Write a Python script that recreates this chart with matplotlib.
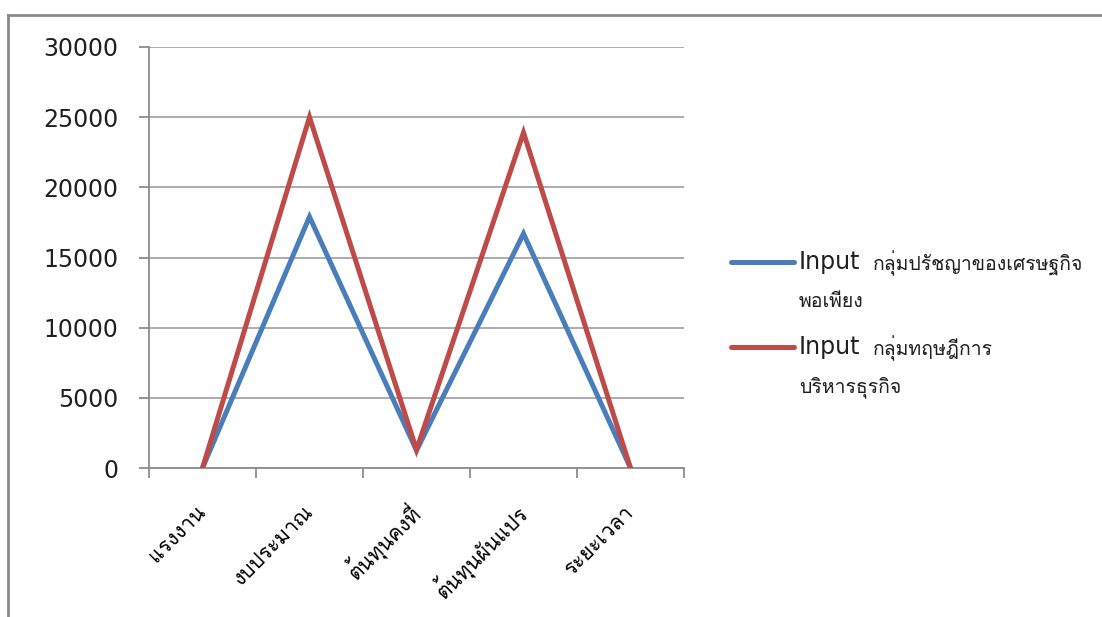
import matplotlib
matplotlib.use("Agg")
import matplotlib.pyplot as plt
from matplotlib.lines import Line2D

plt.rcParams['font.family'] = ['DejaVu Sans', 'Loma']

categories = ['แรงงาน', 'งบประมาณ', 'ต้นทุนคงที่', 'ต้นทุนผันแปร', 'ระยะเวลา']
sufficiency_input = [0, 17900, 1250, 16700, 0]
business_input = [0, 25000, 1300, 23900, 0]
series_labels = [['Input กลุ่มปรัชญาของเศรษฐกิจ', 'พอเพียง'],
                 ['Input กลุ่มทฤษฎีการ', 'บริหารธุรกิจ']]
y_ticks = [0, 5000, 10000, 15000, 20000, 25000, 30000]

W, H = 1102, 617
blue = '#4A7EBB'
red = '#BE4B48'
grid_col = '#A6A6A6'
axis_col = '#8C8C8C'

fig = plt.figure(figsize=(W / 100, H / 100), dpi=100)
ax = fig.add_axes([149 / W, 1 - 468 / H, 535 / W, 421 / H])

x = list(range(len(categories)))
ax.plot(x, sufficiency_input, color=blue, lw=3.6, solid_joinstyle='miter', zorder=3)
ax.plot(x, business_input, color=red, lw=3.6, solid_joinstyle='miter', zorder=4)

ax.set_xlim(-0.5, len(categories) - 0.5)
ax.set_ylim(0, 30000)
ax.set_yticks(y_ticks)
ax.set_yticklabels([str(v) for v in y_ticks])
ax.yaxis.grid(True, color=grid_col, lw=1.3)
ax.set_axisbelow(True)

ax.set_xticks(x)
ax.set_xticklabels(categories, rotation=45, ha='right', va='center',
                   rotation_mode='anchor', fontsize=15)
ax.set_xticks([i - 0.5 for i in range(len(categories) + 1)], minor=True)
ax.tick_params(axis='x', which='major', length=0, pad=29)
ax.tick_params(axis='x', which='minor', length=7, width=1.3, color=axis_col)
ax.tick_params(axis='y', length=7, width=1.3, color=axis_col, pad=15, labelsize=17,
               labelcolor='#202020')

for side in ['top', 'right']:
    ax.spines[side].set_visible(False)
for side in ['left', 'bottom']:
    ax.spines[side].set_color(axis_col)
    ax.spines[side].set_linewidth(1.3)

# legend drawn by hand: Latin part larger than the Thai part, wrapped second line
legend_rows = [262, 347]
for color, lines, y in zip([blue, red], series_labels, legend_rows):
    latin, thai = lines[0].split(' ', 1)
    fig.add_artist(Line2D([731 / W, 794 / W], [1 - y / H, 1 - y / H],
                          color=color, lw=3.6, solid_capstyle='round'))
    fig.text(799 / W, 1 - y / H, latin, va='center', ha='left', fontsize=17,
             color='#202020')
    fig.text(873 / W, 1 - (y + 1) / H, thai, va='center', ha='left', fontsize=14,
             family='Loma', color='#202020')
    fig.text(799 / W, 1 - (y + 40) / H, lines[1], va='center', ha='left', fontsize=14,
             family='Loma', color='#202020')

# outer chart frame (top and left edges visible)
frame_col = '#8A8A8A'
fig.add_artist(Line2D([8 / W, 1.0], [1 - 15 / H, 1 - 15 / H], color=frame_col, lw=2))
fig.add_artist(Line2D([8 / W, 8 / W], [0.0, 1 - 15 / H], color=frame_col, lw=2))

fig.savefig('out.png', dpi=100)
